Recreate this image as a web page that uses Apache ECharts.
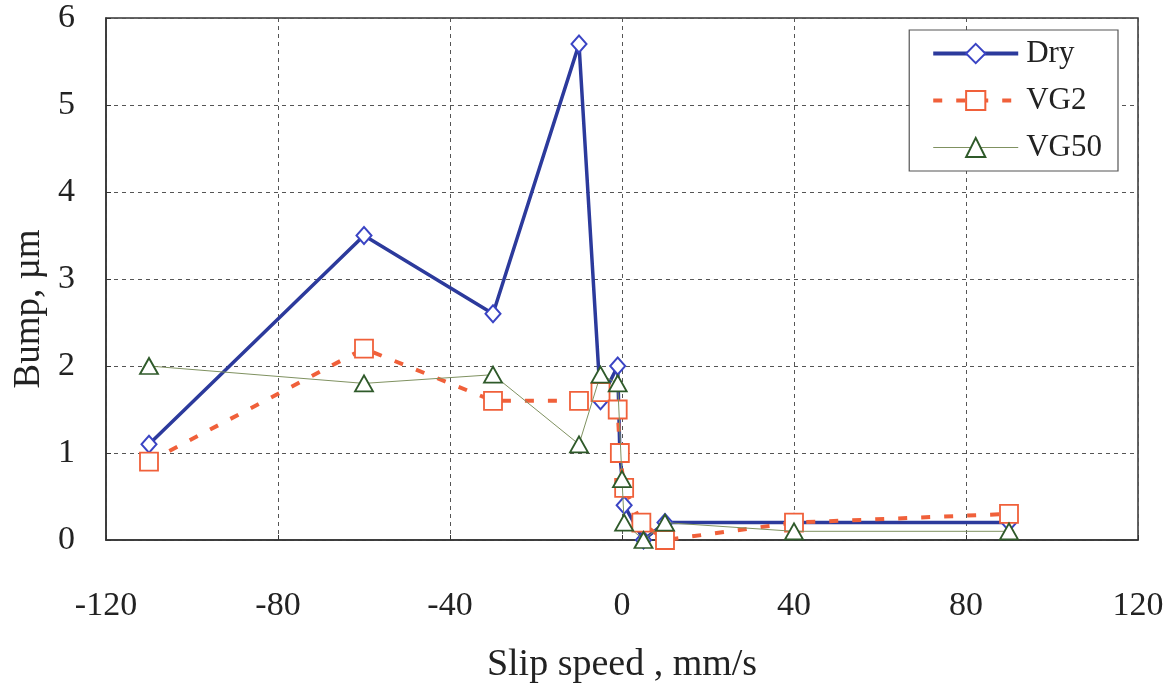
<!DOCTYPE html>
<html>
<head>
<meta charset="utf-8">
<script src="https://cdn.jsdelivr.net/npm/echarts@6/dist/echarts.min.js"></script>
<style>
  html, body { margin: 0; padding: 0; background: #fff; }
  #chart { width: 1175px; height: 691px; }
</style>
</head>
<body>
<div id="chart"></div>
<script>
// Bump height versus slip speed for three lubrication conditions
const xTicks = [-120, -80, -40, 0, 40, 80, 120];
const yTicks = [0, 1, 2, 3, 4, 5, 6];

const drySpeed = [-110, -60, -30, -10, -5, -1, -0.5, 0.5, 5, 10, 40, 90];
const dryBump  = [1.1, 3.5, 2.6, 5.7, 1.6, 2.0, 1.0, 0.4, 0.0, 0.2, 0.2, 0.2];

const vg2Speed = [-110, -60, -30, -10, -5, -1, -0.5, 0.5, 4.5, 10, 40, 90];
const vg2Bump  = [0.9, 2.2, 1.6, 1.6, 1.7, 1.5, 1.0, 0.6, 0.2, 0.0, 0.2, 0.3];

const vg50Speed = [-110, -60, -30, -10, -5, -1, 0, 0.5, 5, 10, 40, 90];
const vg50Bump  = [2.0, 1.8, 1.9, 1.1, 1.9, 1.8, 0.7, 0.2, 0.0, 0.2, 0.1, 0.1];

const pairs = (xs, ys) => xs.map((x, i) => [x, ys[i]]);
const serif = '"Liberation Serif", "DejaVu Serif", serif';
const gridLine = { show: true, lineStyle: { color: '#555', type: [4, 4], width: 1 } };

const chart = echarts.init(document.getElementById('chart'), null, { renderer: 'canvas' });
chart.setOption({
  animation: false,
  backgroundColor: '#fff',
  grid: {
    left: 106, right: 37, top: 18, bottom: 151,
    outerBoundsMode: 'none', containLabel: false,
    show: true, borderColor: '#333', borderWidth: 1.5, backgroundColor: 'transparent'
  },
  legend: {
    orient: 'vertical',
    right: 57, top: 30,
    padding: [8, 16, 8, 22],
    itemGap: 16,
    itemWidth: 85, itemHeight: 24,
    borderColor: '#555', borderWidth: 1.2, backgroundColor: '#fff',
    textStyle: { fontFamily: serif, fontSize: 31, color: '#222', padding: [0, 0, 0, 3] },
    data: [
      { name: 'Dry', lineStyle: { width: 4 } },
      { name: 'VG2', lineStyle: { width: 4 } },
      { name: 'VG50', lineStyle: { width: 1 } }
    ]
  },
  xAxis: {
    type: 'value',
    min: xTicks[0], max: xTicks[xTicks.length - 1], interval: 40,
    name: 'Slip speed , mm/s',
    nameLocation: 'middle', nameGap: 106, nameMoveOverlap: false,
    nameTextStyle: { fontFamily: serif, fontSize: 38, color: '#222' },
    axisLine: { show: true, onZero: false, lineStyle: { color: '#333', width: 1.5 } },
    axisTick: { show: true, inside: true, length: 5, lineStyle: { color: '#333' } },
    axisLabel: { fontFamily: serif, fontSize: 34, color: '#222', margin: 49 },
    splitLine: gridLine
  },
  yAxis: {
    type: 'value',
    min: yTicks[0], max: yTicks[yTicks.length - 1], interval: 1,
    name: 'Bump, µm',
    nameLocation: 'middle', nameGap: 58, nameMoveOverlap: false,
    nameTextStyle: { fontFamily: serif, fontSize: 37, color: '#222', padding: [0, 60, 0, 0] },
    axisLine: { show: true, onZero: false, lineStyle: { color: '#333', width: 1.5 } },
    axisTick: { show: true, inside: true, length: 5, lineStyle: { color: '#333' } },
    axisLabel: { fontFamily: serif, fontSize: 34, color: '#222', margin: 31 },
    splitLine: gridLine
  },
  series: [
    {
      name: 'Dry', type: 'line',
      data: pairs(drySpeed, dryBump),
      symbol: 'diamond', symbolSize: [15, 17], showAllSymbol: true,
      lineStyle: { color: '#2c3a9c', width: 3.5 },
      itemStyle: { color: '#fff', borderColor: '#3a44c4', borderWidth: 2 },
      z: 2
    },
    {
      name: 'VG2', type: 'line',
      data: pairs(vg2Speed, vg2Bump),
      symbol: 'rect', symbolSize: 18, showAllSymbol: true,
      lineStyle: { color: '#f0603a', width: 4, type: [9, 14] },
      itemStyle: { color: '#fff', borderColor: '#f0603a', borderWidth: 1.8 },
      z: 3
    },
    {
      name: 'VG50', type: 'line',
      data: pairs(vg50Speed, vg50Bump),
      symbol: 'triangle', symbolSize: [18, 16], showAllSymbol: true,
      lineStyle: { color: '#7f9160', width: 1 },
      itemStyle: { color: '#fff', borderColor: '#2f5a2a', borderWidth: 1.8 },
      z: 4
    }
  ]
});
</script>
</body>
</html>
